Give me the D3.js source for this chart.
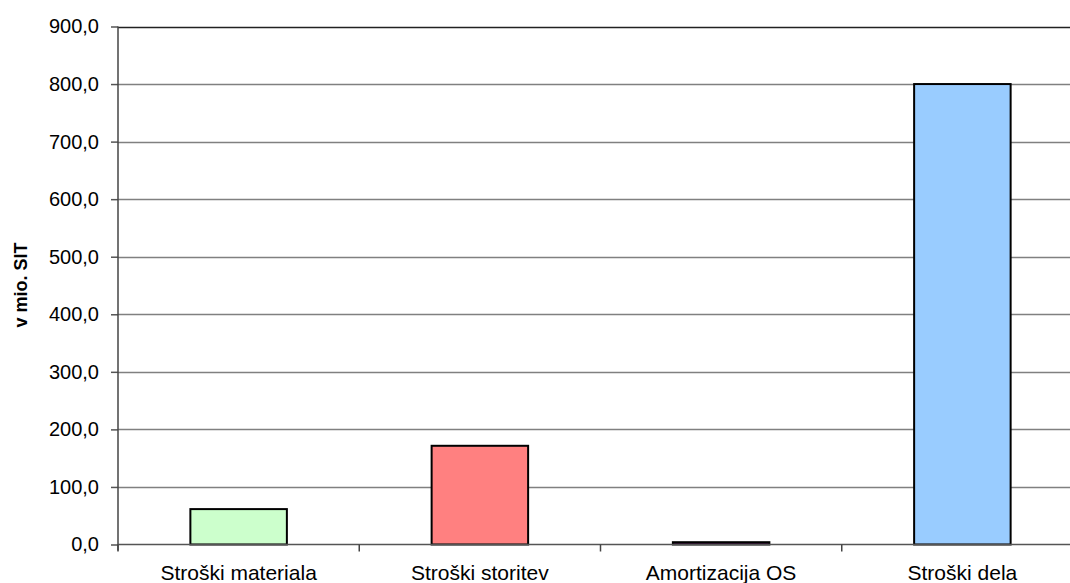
<!DOCTYPE html>
<html>
<head>
<meta charset="utf-8">
<script src="https://cdn.jsdelivr.net/npm/d3@7"></script>
<style>
  body { margin: 0; background: #fff; }
  svg { display: block; font-family: "Liberation Sans", Arial, sans-serif; }
</style>
</head>
<body>
<svg width="1070" height="583"></svg>
<script>
// podatki
const kategorije = ["Stroški materiala", "Stroški storitev", "Amortizacija OS", "Stroški dela"];
const vrednosti = [61.5, 171.5, 4.0, 800.0];
const barve = ["#ccffcc", "#ff8080", "#660066", "#99ccff"];
const ticki = [0, 100, 200, 300, 400, 500, 600, 700, 800, 900];

const svg = d3.select("svg");
const levo = 118, desno = 1083, zgoraj = 26.5, spodaj = 544.5;

const x = d3.scaleBand()
    .domain(kategorije)
    .range([levo, desno])
    .paddingInner(0.6)
    .paddingOuter(0.3);

const y = d3.scaleLinear()
    .domain([0, 900])
    .range([spodaj, zgoraj]);

const fmt = d => d3.format(".1f")(d).replace(".", ",");

// mreza
svg.append("g")
    .selectAll("line")
    .data(ticki.slice(1))
    .join("line")
    .attr("x1", levo).attr("x2", 1070)
    .attr("y1", d => Math.round(y(d)) + 0.5).attr("y2", d => Math.round(y(d)) + 0.5)
    .style("stroke", d => d == 900 ? "#222" : "#808080")
    .style("stroke-width", 1.5);

// stolpci
svg.append("g")
    .selectAll("rect")
    .data(vrednosti)
    .join("rect")
    .attr("x", (d, i) => x(kategorije[i]))
    .attr("width", x.bandwidth())
    .attr("y", d => y(d))
    .attr("height", d => y(0) - y(d))
    .style("fill", (d, i) => barve[i])
    .style("stroke", "#000")
    .style("stroke-width", 2);

// os y
const osY = svg.append("g")
    .attr("transform", `translate(${levo},0)`)
    .call(d3.axisLeft(y).tickValues(ticki).tickFormat(fmt).tickSize(7).tickPadding(12));
osY.select(".domain").remove();
osY.selectAll(".tick line").style("stroke", "#555").style("stroke-width", 1.5);
osY.selectAll(".tick text").style("font-size", "20px").style("fill", "#000")
    .style("font-family", "'Liberation Sans', Arial, sans-serif");
svg.append("line")
    .attr("x1", levo).attr("x2", levo)
    .attr("y1", zgoraj).attr("y2", spodaj + 6)
    .style("stroke", "#444").style("stroke-width", 1.5);

// os x
svg.append("line")
    .attr("x1", levo).attr("x2", 1070)
    .attr("y1", spodaj).attr("y2", spodaj)
    .style("stroke", "#555").style("stroke-width", 1.5);
svg.append("g")
    .selectAll("line")
    .data(kategorije)
    .join("line")
    .attr("x1", d => x(d) - x.step() * 0.3).attr("x2", d => x(d) - x.step() * 0.3)
    .attr("y1", spodaj).attr("y2", spodaj + 7)
    .style("stroke", "#444").style("stroke-width", 1.5);

svg.append("g")
    .selectAll("text")
    .data(kategorije)
    .join("text")
    .text(d => d)
    .attr("x", d => x(d) + x.bandwidth() / 2)
    .attr("y", 580)
    .attr("text-anchor", "middle")
    .style("font-size", "21px")
    .style("fill", "#000");

// naslov osi
svg.append("text")
    .text("v mio. SIT")
    .attr("transform", "translate(27,285) rotate(-90)")
    .attr("text-anchor", "middle")
    .style("font-size", "18px")
    .style("font-weight", "bold");
</script>
</body>
</html>
